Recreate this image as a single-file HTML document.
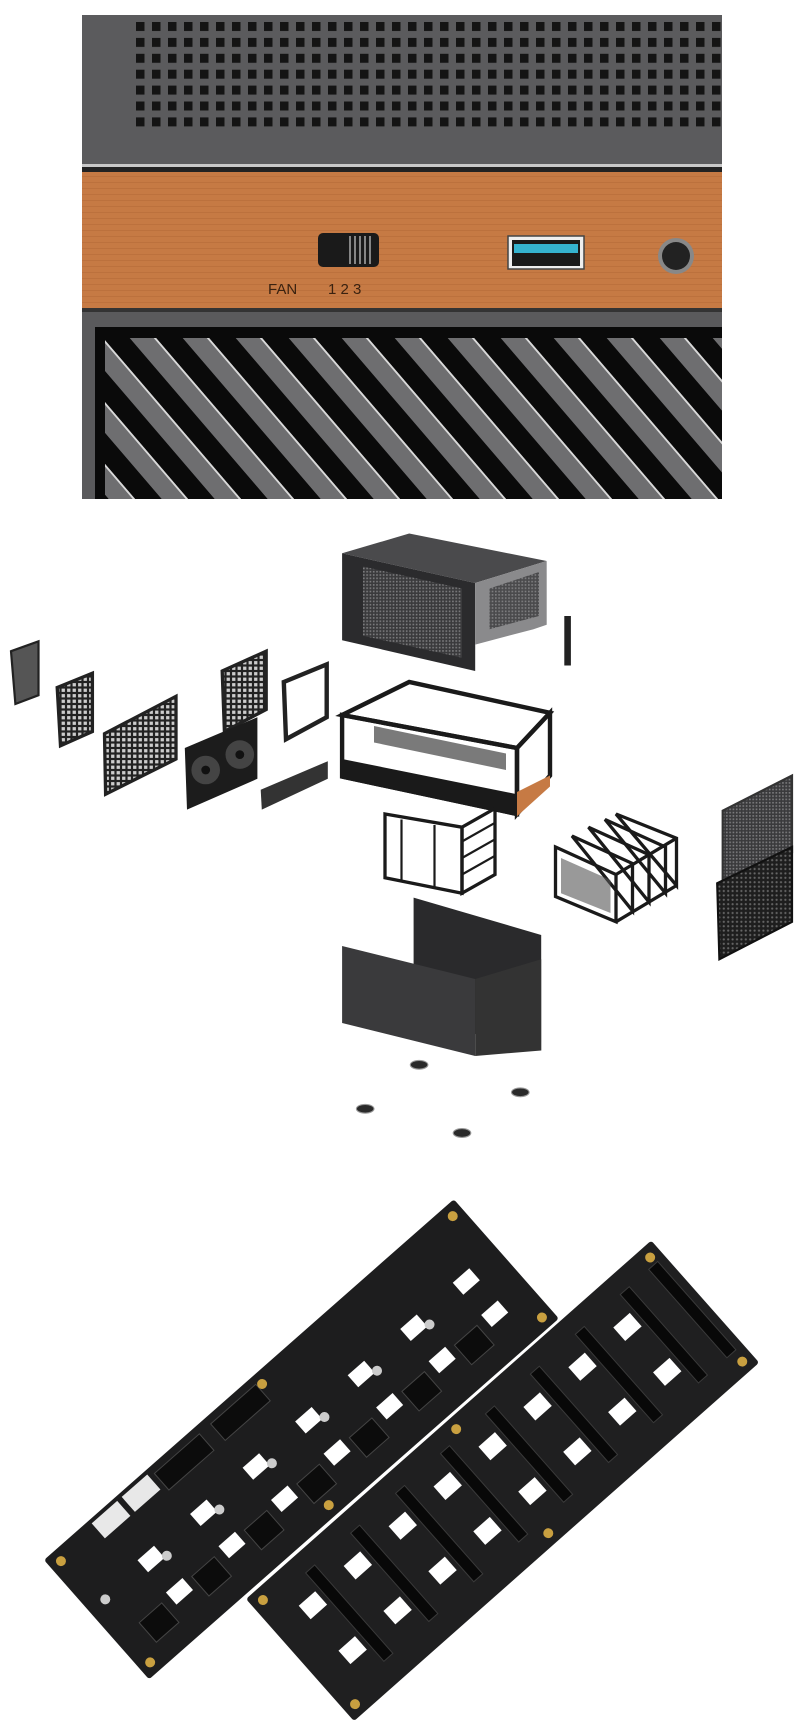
<!DOCTYPE html>
<html><head><meta charset="utf-8"><style>html,body{margin:0;padding:0;background:#fff}svg{display:block}</style></head>
<body>
<svg width="800" height="1721" viewBox="0 0 800 1721" xmlns="http://www.w3.org/2000/svg">
<defs>
<pattern id="holes" x="136" y="22" width="16" height="15.9" patternUnits="userSpaceOnUse"><rect width="8.5" height="9" fill="#141414"/></pattern>
<pattern id="stripes" x="105" y="338" width="53" height="600" patternUnits="userSpaceOnUse" patternTransform="skewX(40.6)"><rect width="53" height="600" fill="#0a0a0a"/><rect x="0" width="26" height="600" fill="#6e6e70"/><rect x="24" width="2.5" height="600" fill="#d8d8d8"/></pattern>
<pattern id="mesh" width="3" height="3" patternUnits="userSpaceOnUse"><rect width="3" height="3" fill="#3a3a3c"/><rect width="1.5" height="1.5" fill="#7a7a7c"/></pattern>
<pattern id="grid" width="5" height="5" patternUnits="userSpaceOnUse"><rect width="5" height="5" fill="#222"/><rect x="1" y="1" width="3" height="3" fill="#ccc"/></pattern>
<pattern id="hex" width="4" height="4" patternUnits="userSpaceOnUse"><rect width="4" height="4" fill="#1e1e1e"/><circle cx="2" cy="2" r="1" fill="#666"/></pattern>
<pattern id="wood" width="640" height="6" patternUnits="userSpaceOnUse"><rect width="640" height="6" fill="#c67a44"/><rect y="2" width="640" height="1" fill="#b56a38" opacity=".6"/></pattern>
</defs>

<!-- TOP PANEL -->
<rect x="82" y="15" width="640" height="152" fill="#5b5b5d"/>
<rect x="136" y="22" width="586" height="105" fill="url(#holes)"/>
<rect x="82" y="164" width="640" height="3" fill="#c8c8c8"/>
<rect x="82" y="167" width="640" height="5" fill="#222"/>
<rect x="82" y="172" width="640" height="138" fill="url(#wood)"/>
<rect x="82" y="308" width="640" height="4" fill="#333"/>
<rect x="318" y="233" width="61" height="34" rx="5" fill="#1a1a1a"/>
<g stroke="#aaa" stroke-width="1.5"><line x1="350" y1="236" x2="350" y2="264"/><line x1="355" y1="236" x2="355" y2="264"/><line x1="360" y1="236" x2="360" y2="264"/><line x1="365" y1="236" x2="365" y2="264"/><line x1="370" y1="236" x2="370" y2="264"/></g>
<text x="268" y="294" font-family="Liberation Sans, sans-serif" font-size="15" fill="#3a2210">FAN</text>
<text x="328" y="294" font-family="Liberation Sans, sans-serif" font-size="15" fill="#3a2210">1 2 3</text>
<rect x="508" y="236" width="76" height="33" fill="#eee" stroke="#444" stroke-width="1.5"/>
<rect x="512" y="240" width="68" height="26" fill="#1a1a1a"/>
<rect x="514" y="244" width="64" height="9" fill="#35b3cf"/>
<circle cx="676" cy="256" r="18" fill="#888"/><circle cx="676" cy="256" r="14" fill="#222"/>
<rect x="82" y="312" width="640" height="187" fill="#5a5a5c"/>
<rect x="95" y="327" width="627" height="172" fill="#0a0a0a"/>
<rect x="105" y="338" width="617" height="161" fill="url(#stripes)"/>

<!-- EXPLODED VIEW (thumbnail coords x1.1) -->
<g transform="scale(1.1)">
<!-- top shell -->
<polygon points="311,503 372,485 497,510 432,530" fill="#4a4a4c"/>
<polygon points="311,503 432,530 432,610 311,582" fill="#2b2b2d"/>
<polygon points="330,515 420,535 420,598 330,578" fill="url(#mesh)"/>
<polygon points="432,530 497,510 497,568 485,572 432,586" fill="#8a8a8c"/>
<polygon points="445,535 490,520 490,560 445,572" fill="url(#mesh)" opacity=".8"/>
<rect x="513" y="560" width="6" height="45" fill="#222"/>
<!-- left parts -->
<polygon points="10,592 35,583 35,632 14,640" fill="#555" stroke="#222" stroke-width="2"/>
<polygon points="52,625 84,612 84,665 55,678" fill="url(#grid)" stroke="#222" stroke-width="3"/>
<polygon points="95,667 160,633 160,690 96,722" fill="url(#grid)" stroke="#222" stroke-width="3"/>
<polygon points="202,610 242,592 242,645 204,665" fill="url(#grid)" stroke="#222" stroke-width="3"/>
<polygon points="258,620 297,604 297,652 260,672" fill="none" stroke="#222" stroke-width="4"/>
<polygon points="168,680 234,652 234,708 170,736" fill="#1c1c1c"/>
<circle cx="187" cy="700" r="13" fill="#444"/><circle cx="218" cy="686" r="13" fill="#444"/>
<circle cx="187" cy="700" r="4" fill="#111"/><circle cx="218" cy="686" r="4" fill="#111"/>
<polygon points="237,718 298,692 298,708 238,736" fill="#333"/>
<!-- frame -->
<polygon points="311,650 372,620 500,648 470,680" fill="none" stroke="#1a1a1a" stroke-width="4"/>
<polygon points="311,650 470,680 470,740 311,706" fill="none" stroke="#1a1a1a" stroke-width="4"/>
<polygon points="470,680 500,648 500,705 470,740" fill="none" stroke="#1a1a1a" stroke-width="4"/>
<polygon points="311,690 470,722 470,742 311,708" fill="#1a1a1a"/>
<polygon points="340,660 460,685 460,700 340,675" fill="#222" opacity=".6"/>
<polygon points="470,720 500,705 500,715 470,742" fill="#c67a44"/>
<polygon points="350,740 420,752 420,812 350,798" fill="none" stroke="#1a1a1a" stroke-width="3"/>
<polygon points="420,752 450,735 450,795 420,812" fill="none" stroke="#1a1a1a" stroke-width="3"/>
<g stroke="#1a1a1a" stroke-width="2"><line x1="420" y1="765" x2="450" y2="748"/><line x1="420" y1="780" x2="450" y2="763"/><line x1="420" y1="795" x2="450" y2="778"/><line x1="365" y1="745" x2="365" y2="800"/><line x1="395" y1="750" x2="395" y2="806"/></g>
<!-- hdd cage -->
<g fill="none" stroke="#1a1a1a" stroke-width="3">
<polygon points="505,770 560,795 560,838 505,815"/>
<polygon points="520,760 575,785 575,828"/>
<polygon points="535,752 590,777 590,820"/>
<polygon points="550,745 605,770 605,812"/>
<polygon points="560,740 615,762 615,805"/>
<line x1="560" y1="795" x2="615" y2="762"/><line x1="560" y1="838" x2="615" y2="805"/>
</g>
<polygon points="510,780 555,800 555,830 510,812" fill="#555" opacity=".6"/>
<!-- right panels -->
<polygon points="657,737 720,705 720,775 657,808" fill="url(#mesh)" stroke="#333" stroke-width="2"/>
<polygon points="652,803 720,770 720,838 654,872" fill="url(#hex)" stroke="#111" stroke-width="2"/>
<!-- bottom shell -->
<polygon points="376,816 492,850 492,955 432,940 376,925" fill="#2a2a2c"/>
<polygon points="311,860 432,890 432,960 311,930" fill="#3a3a3c"/>
<polygon points="432,890 492,872 492,955 432,960" fill="#333"/>
<!-- feet -->
<g fill="#2a2a2a" stroke="#999" stroke-width="1"><ellipse cx="381" cy="968" rx="8" ry="4"/><ellipse cx="473" cy="993" rx="8" ry="4"/><ellipse cx="332" cy="1008" rx="8" ry="4"/><ellipse cx="420" cy="1030" rx="8" ry="4"/></g>
</g>

<!-- BOARD 1 -->
<g transform="translate(44,1560) rotate(-41.36)">
<rect x="0" y="0" width="546" height="159" rx="3" fill="#1d1d1e"/>
<g fill="#fff"><rect x="70" y="62" width="22" height="16"/><rect x="70" y="105" width="22" height="16"/>
<rect x="140" y="62" width="22" height="16"/><rect x="140" y="105" width="22" height="16"/>
<rect x="210" y="62" width="22" height="16"/><rect x="210" y="105" width="22" height="16"/>
<rect x="280" y="62" width="22" height="16"/><rect x="280" y="105" width="22" height="16"/>
<rect x="350" y="62" width="22" height="16"/><rect x="350" y="105" width="22" height="16"/>
<rect x="420" y="62" width="22" height="16"/><rect x="420" y="105" width="22" height="16"/>
<rect x="490" y="62" width="22" height="16"/><rect x="490" y="105" width="22" height="16"/></g>
<g fill="#0c0c0c" stroke="#444"><rect x="30" y="110" width="30" height="26"/><rect x="100" y="110" width="30" height="26"/><rect x="170" y="110" width="30" height="26"/><rect x="240" y="110" width="30" height="26"/><rect x="310" y="110" width="30" height="26"/><rect x="380" y="110" width="30" height="26"/><rect x="450" y="110" width="30" height="26"/>
<rect x="140" y="8" width="60" height="22"/><rect x="215" y="8" width="60" height="22"/></g>
<rect x="60" y="4" width="34" height="20" fill="#e8e8e8"/><rect x="100" y="4" width="34" height="20" fill="#e8e8e8"/>
<g fill="#ccc"><circle cx="20" cy="70" r="5"/><circle cx="95" cy="78" r="5"/><circle cx="165" cy="78" r="5"/><circle cx="235" cy="78" r="5"/><circle cx="305" cy="78" r="5"/><circle cx="375" cy="78" r="5"/><circle cx="445" cy="78" r="5"/></g>
<g fill="#c9a040"><circle cx="12" cy="12" r="5"/><circle cx="12" cy="147" r="5"/><circle cx="534" cy="12" r="5"/><circle cx="534" cy="147" r="5"/><circle cx="250" cy="147" r="5"/><circle cx="280" cy="12" r="5"/></g>
</g>

<!-- BOARD 2 -->
<g transform="translate(246,1599) rotate(-41.5)">
<rect x="0" y="0" width="541" height="163" rx="3" fill="#1f1f20"/>
<g fill="#fff"><rect x="35" y="40" width="22" height="18"/><rect x="35" y="100" width="22" height="18"/>
<rect x="95" y="40" width="22" height="18"/><rect x="95" y="100" width="22" height="18"/>
<rect x="155" y="40" width="22" height="18"/><rect x="155" y="100" width="22" height="18"/>
<rect x="215" y="40" width="22" height="18"/><rect x="215" y="100" width="22" height="18"/>
<rect x="275" y="40" width="22" height="18"/><rect x="275" y="100" width="22" height="18"/>
<rect x="335" y="40" width="22" height="18"/><rect x="335" y="100" width="22" height="18"/>
<rect x="395" y="40" width="22" height="18"/><rect x="395" y="100" width="22" height="18"/>
<rect x="455" y="40" width="22" height="18"/><rect x="455" y="100" width="22" height="18"/></g>
<g fill="#080808" stroke="#3a3a3a"><rect x="62" y="20" width="12" height="118"/><rect x="122" y="20" width="12" height="118"/><rect x="182" y="20" width="12" height="118"/><rect x="242" y="20" width="12" height="118"/><rect x="302" y="20" width="12" height="118"/><rect x="362" y="20" width="12" height="118"/><rect x="422" y="20" width="12" height="118"/><rect x="482" y="20" width="12" height="118"/><rect x="520" y="20" width="12" height="118"/></g>
<g fill="#c9a040"><circle cx="12" cy="12" r="5"/><circle cx="12" cy="151" r="5"/><circle cx="529" cy="12" r="5"/><circle cx="529" cy="151" r="5"/><circle cx="270" cy="12" r="5"/><circle cx="270" cy="151" r="5"/></g>
</g>
</svg>
</body></html>
